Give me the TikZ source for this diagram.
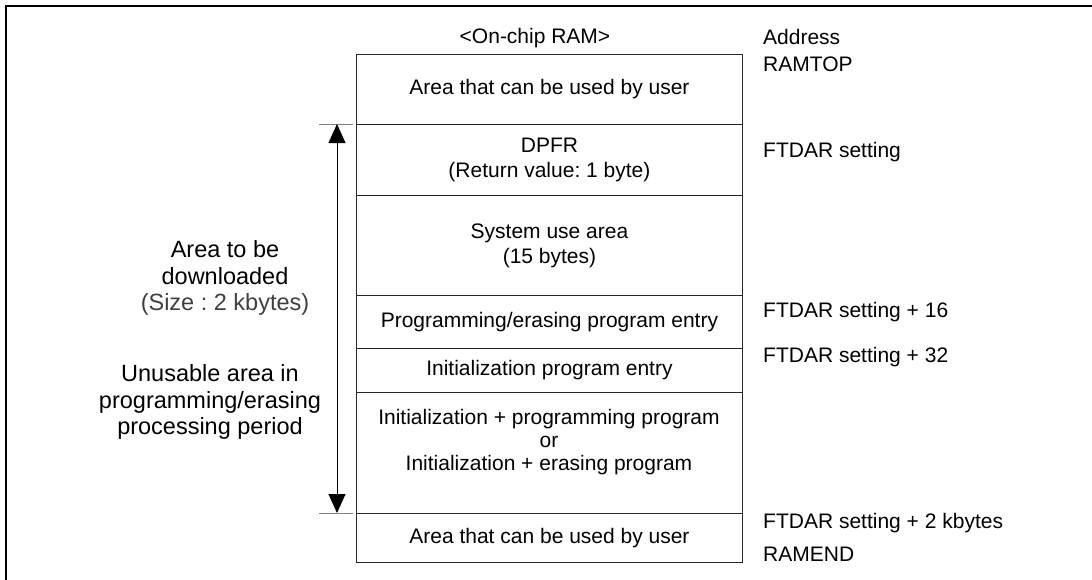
\documentclass[tikz,border=0pt]{standalone}
\usepackage{fontspec}
\setmainfont{Liberation Sans}
\usetikzlibrary{arrows.meta}
\frenchspacing
\tikzset{
  row/.style={draw=black!85, line width=0.9pt, anchor=north west, minimum width=386pt, inner sep=0pt, align=center, font=\fontsize{21}{25}\selectfont},
  boxtext/.style={inner sep=0pt, align=center, font=\fontsize{21}{23}\selectfont},
  addr/.style={anchor=west, inner sep=0pt, font=\fontsize{21}{25}\selectfont},
  side/.style={align=center, inner sep=0pt, font=\fontsize{23.5}{26.5}\selectfont},
  tick/.style={draw=black!50, line width=1pt},
  dimarrow/.style={line width=0.9pt, {Triangle[length=19pt,width=17pt]}-{Triangle[length=19pt,width=17pt]}}
}
\begin{document}
\begin{tikzpicture}[x=1pt,y=-1pt]
\useasboundingbox (0,0) rectangle (1092,579);
% frame
\draw[line width=2.2pt] (6,580) -- (6,6) -- (1093,6);
% rows
\node[row, minimum height=70pt] (r1) at (356,54) {Area that can be used by user};
\node[row, minimum height=71pt] (r2) at (356,124) {DPFR\\(Return value: 1 byte)};
\node[row, minimum height=100pt] (r3) at (356,195) {System use area\\(15 bytes)};
\node[row, minimum height=53pt] (r4) at (356,295) {Programming/erasing program entry};
\node[row, minimum height=44pt] (r5) at (356,348) {Initialization program entry};
\node[row, minimum height=121pt] (r6) at (356,392) {};
\node[boxtext] (r6t) at (549,442) {Initialization + programming program\\or\\Initialization + erasing program};
\node[row, minimum height=49pt] (r7) at (356,513) {Area that can be used by user};
% title
\node[inner sep=0pt, font=\fontsize{21}{25}\selectfont] (title) at (535,38) {<On-chip RAM>};
% addresses
\node[addr] (a0) at (763,37) {Address};
\node[addr] (a1) at (763,64) {RAMTOP};
\node[addr] (a2) at (763,152) {FTDAR setting};
\node[addr] (a3) at (763,312) {FTDAR setting + 16};
\node[addr] (a4) at (763,357) {FTDAR setting + 32};
\node[addr] (a5) at (763,523) {FTDAR setting + 2 kbytes};
\node[addr] (a6) at (763,554) {RAMEND};
% ticks and arrow
\coordinate (tt) at (337,124);
\coordinate (tb) at (337,513);
\coordinate (ttl) at (319,124);
\coordinate (ttr) at (353,124);
\coordinate (tbl) at (319,513);
\coordinate (tbr) at (353,513);
\draw[tick] (ttl) -- (ttr);
\draw[tick] (tbl) -- (tbr);
\draw[dimarrow] (tt) -- (tb);
% side labels
\node[side] (s1) at (225,278) {Area to be\\downloaded\\{\color{black!75}(Size : 2 kbytes)}};
\node[side] (s2) at (210,402) {Unusable area in\\programming/erasing\\processing period};
\end{tikzpicture}
\end{document}
